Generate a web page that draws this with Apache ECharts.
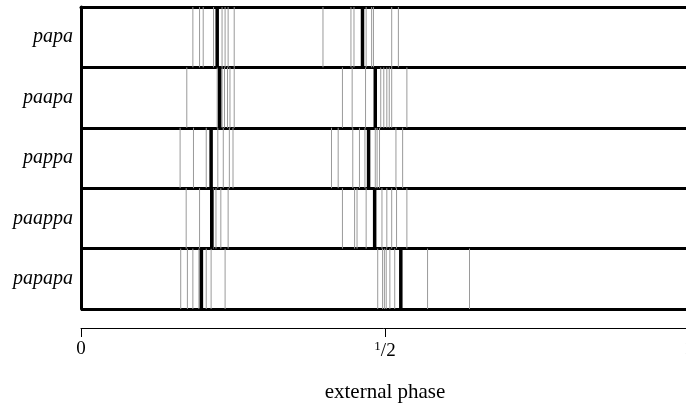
<!DOCTYPE html>
<html>
<head>
<meta charset="utf-8">
<script src="https://cdn.jsdelivr.net/npm/echarts@6/dist/echarts.min.js"></script>
<style>
  html, body { margin: 0; padding: 0; background: #fff; }
  #chart { width: 686px; height: 406px; }
</style>
</head>
<body>
<div id="chart"></div>
<script>
// rows, top to bottom
var palabras = ["papa", "paapa", "pappa", "paappa", "papapa"];

// phases of the thin grey lines in each row
var fasesGris = [
  [0.184, 0.195, 0.201, 0.218, 0.232, 0.237, 0.242, 0.252, 0.398, 0.444, 0.449, 0.469, 0.478, 0.481, 0.511, 0.522],
  [0.174, 0.224, 0.232, 0.236, 0.241, 0.245, 0.252, 0.430, 0.446, 0.468, 0.493, 0.498, 0.503, 0.507, 0.511, 0.536],
  [0.163, 0.185, 0.206, 0.225, 0.234, 0.244, 0.250, 0.412, 0.423, 0.447, 0.458, 0.467, 0.484, 0.487, 0.491, 0.518, 0.529],
  [0.173, 0.195, 0.218, 0.222, 0.230, 0.242, 0.430, 0.450, 0.454, 0.469, 0.495, 0.503, 0.511, 0.519, 0.536],
  [0.164, 0.175, 0.184, 0.194, 0.206, 0.214, 0.237, 0.488, 0.496, 0.499, 0.502, 0.508, 0.516, 0.570, 0.639]
];

// phases of the thick black lines in each row
var fasesNegras = [
  [0.224, 0.463],
  [0.228, 0.484],
  [0.214, 0.473],
  [0.215, 0.483],
  [0.198, 0.526]
];

var etiquetasX = { 0: "0", 0.5: "{sup|1}/2", 1: "1" };

function datosLineas(fases, tipo) {
  var datos = [];
  fases.forEach(function (fila, i) {
    fila.forEach(function (f) {
      datos.push([f, palabras[i], tipo]);
    });
  });
  return datos;
}

function dibujarLinea(params, api) {
  var centro = api.coord([api.value(0), api.value(1)]);
  var alto = api.size([0, 1])[1];
  var negra = api.value(2) === 1;
  return {
    type: "line",
    shape: { x1: centro[0], y1: centro[1] - alto / 2, x2: centro[0], y2: centro[1] + alto / 2 },
    style: { stroke: negra ? "#000" : "#9a9a9a", lineWidth: negra ? 3.5 : 1 }
  };
}

var fuente = "'Liberation Serif', 'DejaVu Serif', serif";

var option = {
  backgroundColor: "#fff",
  animation: false,
  grid: { left: 81, top: 7, width: 608, height: 302, containLabel: false, outerBoundsMode: "none" },
  xAxis: [
    {
      type: "value",
      min: 0,
      max: 1,
      interval: 0.5,
      position: "bottom",
      offset: 19,
      axisLine: { show: true, lineStyle: { color: "#000", width: 1 } },
      axisTick: { show: true, length: 9, lineStyle: { color: "#000", width: 1 } },
      splitLine: { show: false },
      axisLabel: {
        margin: 12,
        fontFamily: fuente,
        fontSize: 19,
        color: "#000",
        formatter: function (v) { return etiquetasX[v]; },
        rich: { sup: { fontFamily: fuente, fontSize: 13, verticalAlign: "top", padding: [0, 0, 9, 0] } }
      },
      name: "external phase",
      nameLocation: "middle",
      nameGap: 54,
      nameTextStyle: { fontFamily: fuente, fontSize: 21, color: "#000" }
    },
    {
      type: "value",
      min: 0,
      max: 1,
      position: "top",
      axisLine: { show: true, lineStyle: { color: "#000", width: 3 } },
      axisTick: { show: false },
      axisLabel: { show: false },
      splitLine: { show: false }
    }
  ],
  yAxis: {
    type: "category",
    data: palabras,
    inverse: true,
    axisLine: { show: true, lineStyle: { color: "#000", width: 3 } },
    axisTick: { show: false },
    splitLine: { show: true, lineStyle: { color: "#000", width: 3 } },
    axisLabel: {
      margin: 8,
      fontFamily: fuente,
      fontStyle: "italic",
      fontSize: 20,
      color: "#000"
    }
  },
  series: [
    {
      name: "gris",
      type: "custom",
      renderItem: dibujarLinea,
      encode: { x: 0, y: 1 },
      data: datosLineas(fasesGris, 0)
    },
    {
      name: "negras",
      type: "custom",
      renderItem: dibujarLinea,
      encode: { x: 0, y: 1 },
      data: datosLineas(fasesNegras, 1)
    }
  ]
};

var miGrafica = echarts.init(document.getElementById("chart"), null, { renderer: "canvas" });
miGrafica.setOption(option);
</script>
</body>
</html>
